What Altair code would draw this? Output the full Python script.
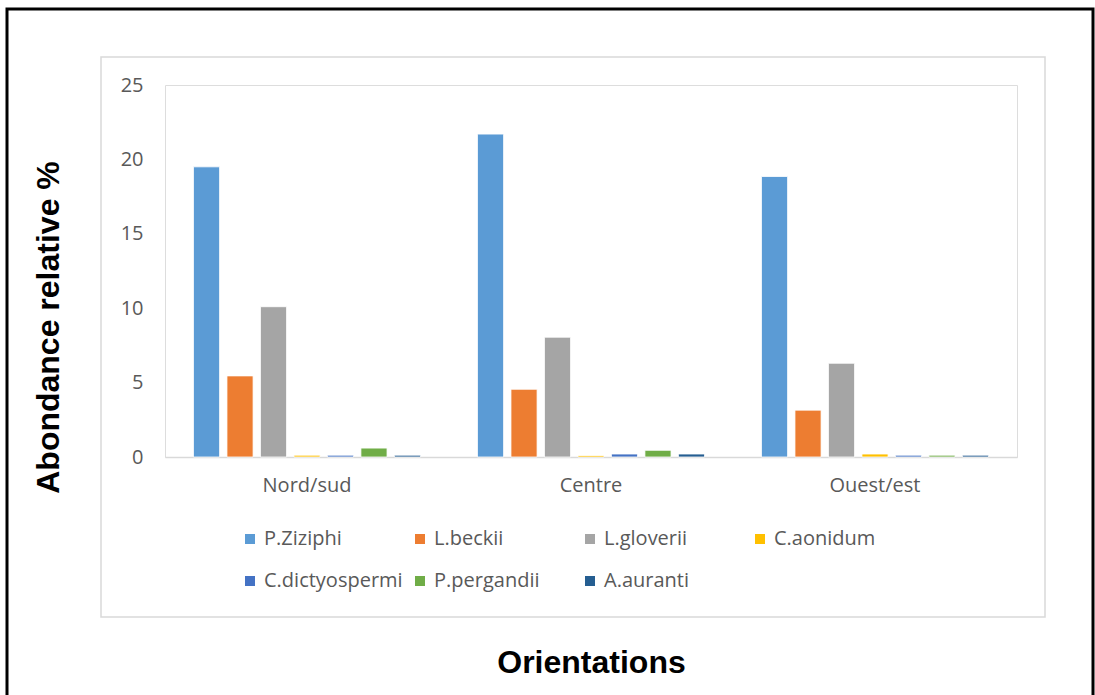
import altair as alt
import pandas as pd

orientations = ["Nord/sud", "Centre", "Ouest/est"]
species = ["P.Ziziphi", "L.beckii", "L.gloverii", "C.aonidum", "C.dictyospermi", "P.pergandii", "A.auranti"]
colors = ["#5B9BD5", "#ED7D31", "#A5A5A5", "#FFC000", "#4472C4", "#70AD47", "#255E91"]
nord_sud = [19.5, 5.45, 10.1, 0.12, 0.12, 0.6, 0.12]
centre = [21.7, 4.55, 8.05, 0.1, 0.2, 0.45, 0.2]
ouest_est = [18.85, 3.15, 6.3, 0.2, 0.12, 0.12, 0.12]

rows = []
for o, vals in zip(orientations, [nord_sud, centre, ouest_est]):
    for s, v in zip(species, vals):
        rows.append({"Orientation": o, "Species": s, "Value": v})
df = pd.DataFrame(rows)

FONT = "Open Sans"
GRAY = "#595959"

bars = alt.Chart(df).mark_bar(stroke="white", strokeWidth=0.8).encode(
    x=alt.X("Orientation:N", sort=orientations,
            scale=alt.Scale(paddingInner=0, paddingOuter=0),
            axis=alt.Axis(title="Orientations", labelAngle=0, labelFontSize=20,
                          labelColor=GRAY, labelFont=FONT, labelPadding=18,
                          ticks=False, domainColor="#D9D9D9", domainWidth=1.5,
                          titleFontSize=32, titleFont="Liberation Sans",
                          titleFontWeight="bold", titleColor="black", titlePadding=152)),
    xOffset=alt.XOffset("Species:N", sort=species,
                        scale=alt.Scale(paddingInner=0.22, paddingOuter=0.85)),
    y=alt.Y("Value:Q", scale=alt.Scale(domain=[0, 25]),
            axis=alt.Axis(title="Abondance relative %", values=[0, 5, 10, 15, 20, 25],
                          grid=False, ticks=False, domain=False, labelFontSize=20,
                          labelColor=GRAY, labelFont=FONT, labelPadding=22,
                          titleFontSize=32, titleFont="Liberation Sans",
                          titleFontWeight="bold", titleColor="black", titleY=242,
                          titlePadding=55)),
    color=alt.Color("Species:N", sort=species,
                    scale=alt.Scale(domain=species, range=colors),
                    legend=alt.Legend(title=None, orient="none", legendX=75, legendY=444,
                                      direction="horizontal",
                                      columns=4, gridAlign="all", columnPadding=7,
                                      rowPadding=22, symbolType="square", symbolSize=100,
                                      symbolStrokeWidth=0, labelFontSize=20,
                                      labelFont=FONT, labelColor=GRAY, labelOffset=4,
                                      labelLimit=300)),
)

frame_df = pd.DataFrame({"a": [0]})
inner_box = alt.Chart(frame_df).mark_rect(fill=None, stroke="#D9D9D9", strokeWidth=1.5).encode(
    x=alt.value(-64), x2=alt.value(880), y=alt.value(-28), y2=alt.value(532))
outer_box = alt.Chart(frame_df).mark_rect(fill=None, stroke="black", strokeWidth=3).encode(
    x=alt.value(-158), x2=alt.value(928), y=alt.value(-76), y2=alt.value(640))

chart = alt.layer(outer_box, inner_box, bars).properties(
    width=852, height=372,
    autosize=alt.AutoSizeParams(type="none"),
    padding={"left": 165, "top": 85, "right": 78, "bottom": 238},
).configure_view(stroke=None).configure(background="white")

chart.save("out.html", embed_options={"renderer": "svg", "actions": False})
